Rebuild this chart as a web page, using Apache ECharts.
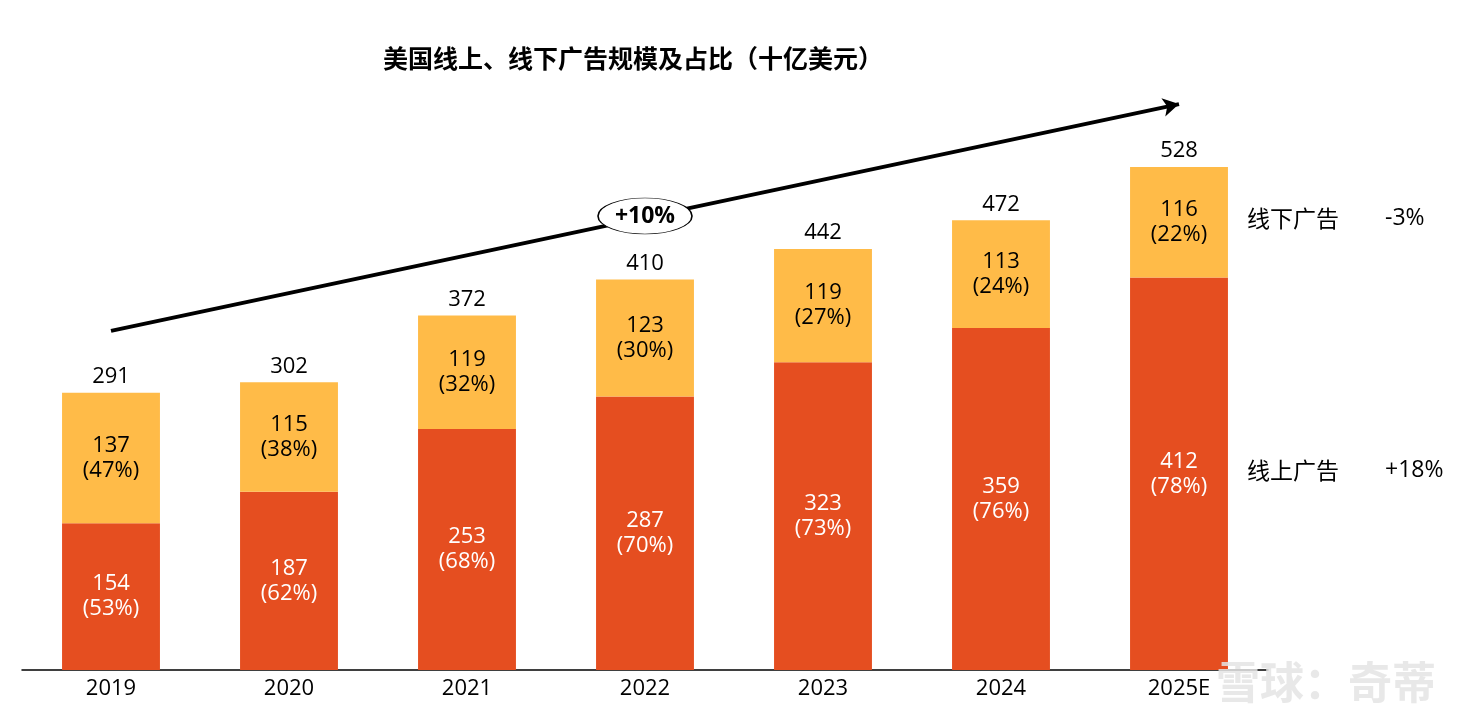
<!DOCTYPE html>
<html><head><meta charset="utf-8">
<script src="https://cdn.jsdelivr.net/npm/echarts@6/dist/echarts.min.js"></script>
<style>html,body{margin:0;padding:0;background:#fff}#c{width:1470px;height:726px}</style>
</head><body><div id="c"></div>
<script>
const categories = ['2019','2020','2021','2022','2023','2024','2025E'];
const onlineValues = [154,187,253,287,323,359,412];
const offlineValues = [137,115,119,123,119,113,116];
const onlinePct = [53,62,68,70,73,76,78];
const offlinePct = [47,38,32,30,27,24,22];
const totals = [291,302,372,410,442,472,528];
const titleText = '美国线上、线下广告规模及占比（十亿美元）';
const cagrLabel = '+10%';
const sideLabels = [['线下广告','-3%'],['线上广告','+18%']];

const FONT = "'Open Sans','Noto Sans CJK SC',sans-serif";
const CJK = "'Noto Sans CJK SC',sans-serif";
const chart = echarts.init(document.getElementById('c'));
chart.setOption({
  backgroundColor:'#fff',
  animation:false,
  title:{text:titleText,left:378,top:41,textStyle:{fontSize:25,fontWeight:'bold',color:'#000',fontFamily:CJK}},
  grid:{left:22,right:202,top:98.4,bottom:56},
  xAxis:{type:'category',data:categories,
    axisLine:{lineStyle:{color:'#000',width:1.5}},axisTick:{show:false},
    axisLabel:{color:'#000',fontSize:22,fontFamily:FONT,margin:8}},
  yAxis:{type:'value',min:0,max:600,show:false,splitLine:{show:false}},
  series:[
    {type:'bar',stack:'s',data:onlineValues,barWidth:'55%',itemStyle:{color:'#E54E20'},
     label:{show:true,position:'inside',color:'#fff',fontSize:22,lineHeight:25,fontFamily:FONT,
       formatter:p=>p.value+'\n('+onlinePct[p.dataIndex]+'%)'},
     markLine:{silent:true,symbol:['none','arrow'],symbolSize:[14,16],
       lineStyle:{color:'#000',width:4,type:'solid'},label:{show:false},
       data:[[{coord:['2019',356]},{coord:['2025E',594]}]]},
     markPoint:{silent:true,
       data:[{coord:['2022',476.5],symbol:'path://M0,50 A50,50 0 1,1 100,50 A50,50 0 1,1 0,50 Z',
         symbolSize:[94,36],itemStyle:{color:'#fff',borderColor:'#000',borderWidth:1},
         label:{show:true,position:'inside',formatter:cagrLabel,color:'#000',fontSize:23,fontWeight:'bold',fontFamily:FONT}}]}
    },
    {type:'bar',stack:'s',data:offlineValues,barWidth:'55%',itemStyle:{color:'#FFBB48'},
     label:{show:true,position:'inside',color:'#000',fontSize:22,lineHeight:25,fontFamily:FONT,
       formatter:p=>p.value+'\n('+offlinePct[p.dataIndex]+'%)'}},
    {type:'bar',data:totals,barWidth:'55%',barGap:'-100%',z:0,silent:true,
     itemStyle:{color:'rgba(0,0,0,0)'},
     label:{show:true,position:'top',distance:5,color:'#000',fontSize:22,fontFamily:FONT}}
  ],
  graphic:[
    {type:'text',left:1247,top:207,style:{text:sideLabels[0][0],fontSize:23,fill:'#000',fontFamily:CJK}},
    {type:'text',left:1385,top:207,style:{text:sideLabels[0][1],fontSize:23,fill:'#000',fontFamily:FONT}},
    {type:'text',left:1247,top:459,style:{text:sideLabels[1][0],fontSize:23,fill:'#000',fontFamily:CJK}},
    {type:'text',left:1385,top:459,style:{text:sideLabels[1][1],fontSize:23,fill:'#000',fontFamily:FONT}},
    {type:'text',left:1216,top:660,z:100,style:{text:'雪球：奇蒂',fontSize:44,fontWeight:'bold',fill:'rgba(228,228,228,0.85)',fontFamily:CJK}}
  ]
});
</script></body></html>
